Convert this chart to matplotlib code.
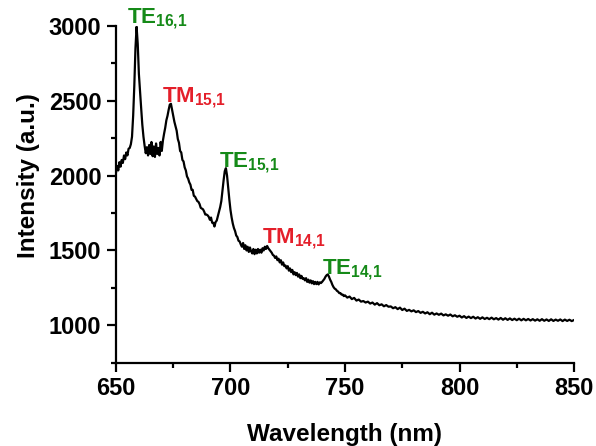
import numpy as np
import matplotlib
matplotlib.use("Agg")
import matplotlib.pyplot as plt
from matplotlib.ticker import MultipleLocator

plt.rcParams['font.family'] = ['Liberation Sans', 'DejaVu Sans']
plt.rcParams['font.weight'] = 'bold'
plt.rcParams['mathtext.fontset'] = 'custom'
plt.rcParams['mathtext.bf'] = 'Liberation Sans:bold'
plt.rcParams['mathtext.rm'] = 'Liberation Sans:bold'

# spectrum: 0.5 nm steps up to 750 nm, then 1 nm steps
wl_fine = np.arange(650.0, 750.01, 0.5)
wl_coarse = np.arange(751.0, 850.01, 1.0)
wavelength = np.concatenate([wl_fine, wl_coarse])

intensity_fine = [
    2020, 2065, 2035, 2090, 2060, 2105, 2085, 2135, 2110, 2155,   # 650-654.5
    2135, 2180, 2185, 2210, 2260, 2400, 2600, 2850, 2995, 2880,   # 655-659.5
    2680, 2560, 2450, 2340, 2260, 2200, 2150, 2190, 2135, 2205,   # 660-664.5
    2145, 2225, 2130, 2195, 2125, 2215, 2145, 2185, 2135, 2225,   # 665-669.5
    2165, 2235, 2280, 2320, 2370, 2400, 2440, 2475, 2480, 2440,   # 670-674.5
    2400, 2360, 2330, 2300, 2245, 2220, 2165, 2155, 2105, 2095,   # 675-679.5
    2055, 2035, 1995, 1980, 1955, 1940, 1905, 1905, 1865, 1860,   # 680-684.5
    1845, 1830, 1825, 1810, 1785, 1780, 1775, 1760, 1740, 1740,   # 685-689.5
    1735, 1725, 1705, 1720, 1685, 1685, 1660, 1690, 1700, 1730,   # 690-694.5
    1760, 1790, 1830, 1900, 1970, 2030, 2050, 2000, 1920, 1840,   # 695-699.5
    1770, 1720, 1680, 1650, 1630, 1600, 1590, 1565, 1560, 1540,   # 700-704.5
    1525, 1550, 1510, 1535, 1500, 1525, 1490, 1520, 1495, 1480,   # 705-709.5
    1510, 1475, 1505, 1480, 1510, 1485, 1505, 1485, 1515, 1500,   # 710-714.5
    1525, 1510, 1530, 1515, 1505, 1495, 1485, 1470, 1465, 1450,   # 715-719.5
    1460, 1435, 1445, 1420, 1435, 1405, 1420, 1395, 1400, 1380,   # 720-724.5
    1395, 1365, 1380, 1355, 1370, 1340, 1355, 1335, 1350, 1325,   # 725-729.5
    1340, 1315, 1330, 1310, 1315, 1300, 1315, 1290, 1305, 1285,   # 730-734.5
    1300, 1280, 1295, 1275, 1290, 1275, 1290, 1273, 1287, 1282,   # 735-739.5
    1290, 1300, 1310, 1325, 1335, 1340, 1325, 1305, 1290, 1270,   # 740-744.5
    1255, 1245, 1240, 1230, 1225, 1215, 1215, 1205, 1205, 1195,   # 745-749.5
    1200,                                                         # 750
]
intensity_coarse = [
    1185, 1192, 1175, 1183, 1165, 1172, 1158, 1162, 1152, 1158,   # 751-760
    1145, 1152, 1138, 1148, 1134, 1140, 1127, 1135, 1124, 1126,   # 761-770
    1114, 1121, 1108, 1118, 1102, 1111, 1096, 1103, 1093, 1100,   # 771-780
    1088, 1095, 1083, 1090, 1079, 1087, 1074, 1084, 1071, 1079,   # 781-790
    1070, 1078, 1066, 1073, 1064, 1072, 1060, 1067, 1057, 1064,   # 791-800
    1052, 1061, 1049, 1058, 1048, 1057, 1045, 1054, 1043, 1053,   # 801-810
    1042, 1050, 1041, 1051, 1040, 1048, 1038, 1049, 1037, 1047,   # 811-820
    1036, 1046, 1035, 1044, 1034, 1044, 1033, 1043, 1033, 1042,   # 821-830
    1032, 1041, 1031, 1040, 1030, 1041, 1030, 1039, 1029, 1040,   # 831-840
    1029, 1038, 1030, 1039, 1028, 1038, 1029, 1037, 1028, 1035,   # 841-850
]
intensity = np.array(intensity_fine + intensity_coarse, dtype=float)

# mode labels: (text, colour, wavelength, intensity)
green = '#158a18'
red = '#e41f2a'
modes = [
    (r'$\mathbf{TE}_{\mathbf{16{,}1}}$', green, 654.8, 3019),
    (r'$\mathbf{TM}_{\mathbf{15{,}1}}$', red, 670.0, 2493),
    (r'$\mathbf{TE}_{\mathbf{15{,}1}}$', green, 695.1, 2058),
    (r'$\mathbf{TM}_{\mathbf{14{,}1}}$', red, 713.6, 1551),
    (r'$\mathbf{TE}_{\mathbf{14{,}1}}$', green, 739.8, 1345),
]

fig = plt.figure(figsize=(5.96, 4.46), dpi=100)
ax = fig.add_axes([0.1946, 0.1868, 0.7685, 0.7549])

ax.plot(wavelength, intensity, color='black', lw=1.6)

ax.set_xlim(650, 850)
ax.set_ylim(750, 3000)
ax.xaxis.set_major_locator(MultipleLocator(50))
ax.xaxis.set_minor_locator(MultipleLocator(25))
ax.yaxis.set_major_locator(MultipleLocator(500))
ax.yaxis.set_minor_locator(MultipleLocator(250))
ax.set_yticks([1000, 1500, 2000, 2500, 3000])

for side in ['top', 'right']:
    ax.spines[side].set_visible(False)
for side in ['left', 'bottom']:
    ax.spines[side].set_linewidth(1.6)

ax.tick_params(which='major', direction='out', length=6.5, width=1.6,
               labelsize=17, pad=4)
ax.tick_params(which='minor', direction='out', length=3.5, width=1.6)

ax.set_xlabel('Wavelength (nm)', fontsize=17.5, fontweight='bold')
ax.set_ylabel('Intensity (a.u.)', fontsize=17.5, fontweight='bold')
ax.xaxis.set_label_coords(0.5, -0.179)
ax.yaxis.set_label_coords(-0.166, 0.557)

for text, col, x, y in modes:
    ax.text(x, y, text, color=col, fontsize=16, ha='left', va='baseline',
            clip_on=False)

fig.savefig('out.png', dpi=100)
